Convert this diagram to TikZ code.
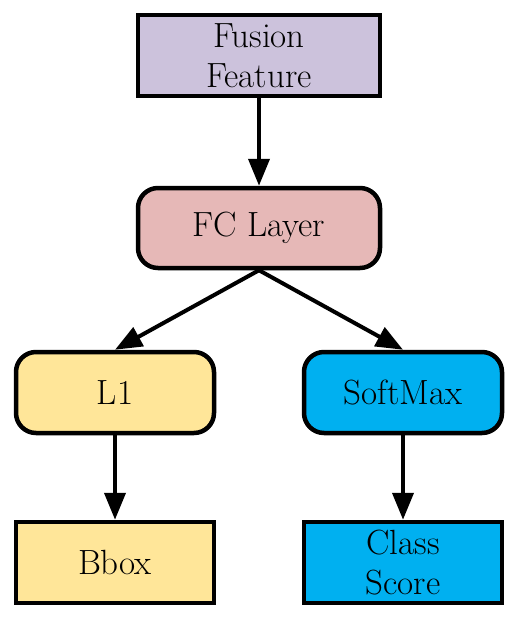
\documentclass[tikz,border=0pt]{standalone}
\usetikzlibrary{arrows.meta}
\definecolor{lav}{RGB}{204,194,220}
\definecolor{pinkc}{RGB}{230,184,183}
\definecolor{yel}{RGB}{255,230,153}
\definecolor{cyanc}{RGB}{0,176,240}
\begin{document}
\begin{tikzpicture}[x=1pt,y=-1pt,
  box/.style={draw=black,line width=4.5pt,minimum width=198pt,minimum height=81pt,inner sep=0pt,align=center,font=\fontsize{35}{40}\selectfont},
  rbox/.style={box,rounded corners=20pt},
  arr/.style={line width=4pt,-{Triangle[length=27pt,width=21pt]}}]
\useasboundingbox (0,0) rectangle (518,618);
\node[box,fill=lav,minimum width=242pt] (ff) at (259,55.5) {Fusion\\Feature};
\node[rbox,fill=pinkc,minimum width=242pt,minimum height=80pt] (fc) at (259,228) {FC Layer};
\node[rbox,fill=yel] (l1) at (115,392.5) {L1};
\node[rbox,fill=cyanc] (sm) at (403,392.5) {SoftMax};
\node[box,fill=yel] (bb) at (115,562.5) {Bbox};
\node[box,fill=cyanc] (cs) at (403,562.5) {Class\\Score};
\draw[arr] (ff) -- (fc);
\draw[arr] (fc.south) -- (l1.north);
\draw[arr] (fc.south) -- (sm.north);
\draw[arr] (l1) -- (bb);
\draw[arr] (sm) -- (cs);
\end{tikzpicture}
\end{document}
